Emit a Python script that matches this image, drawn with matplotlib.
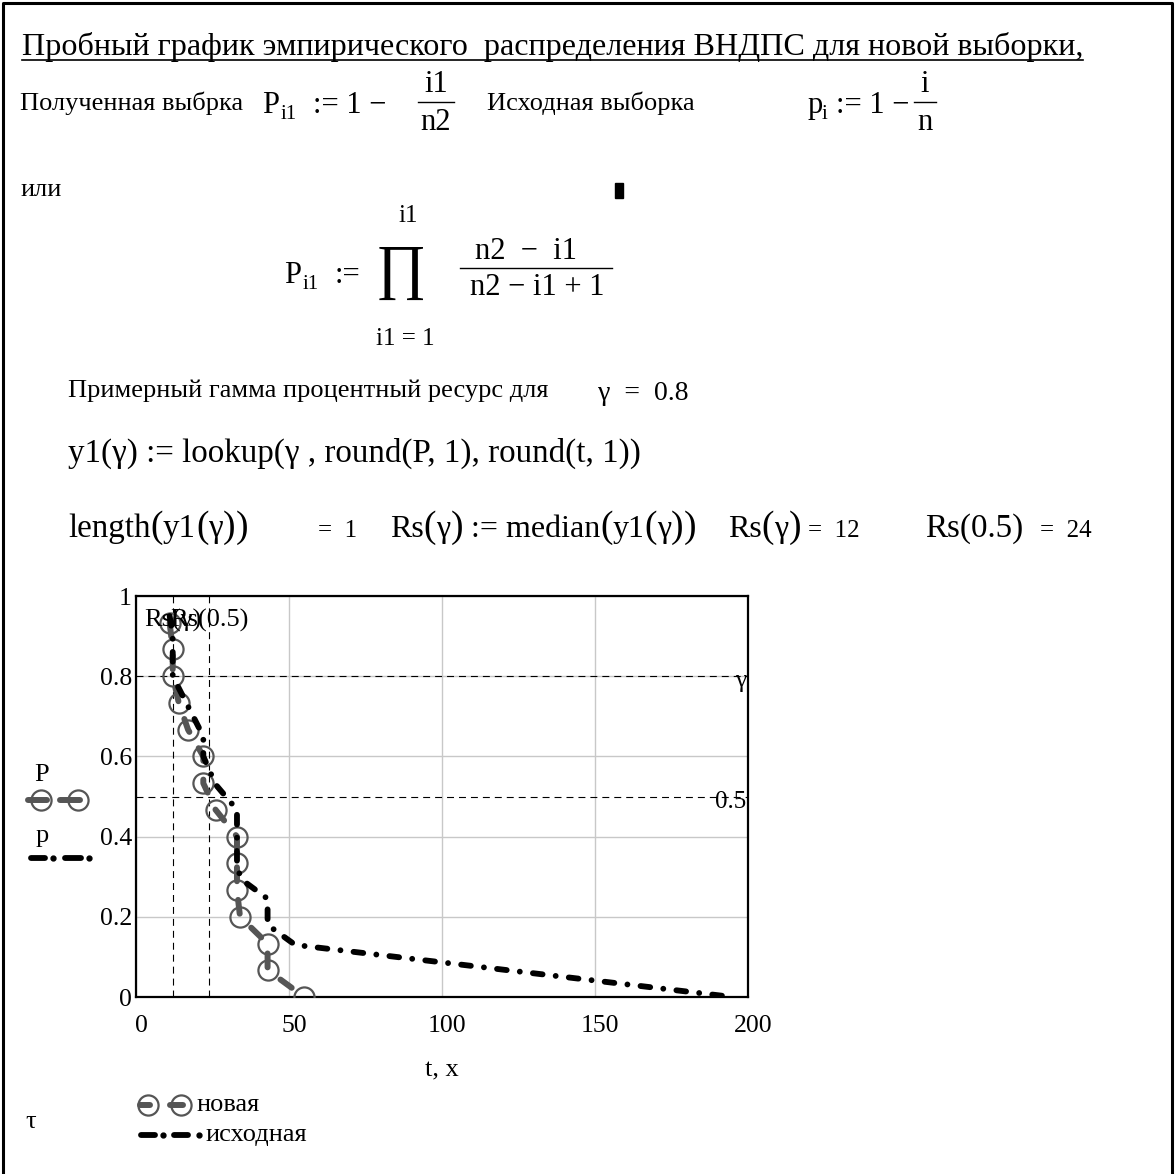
import matplotlib
matplotlib.use('Agg')
import matplotlib.pyplot as plt
import matplotlib.transforms as mtransforms
from matplotlib.lines import Line2D
from matplotlib.patches import Rectangle

plt.rcParams['font.family'] = ['Liberation Serif', 'DejaVu Serif']
plt.rcParams['lines.scale_dashes'] = False

# new sample: P(i1) = 1 - i1/n2 over sorted times t
t_new = [11, 12, 12, 14, 17, 22, 22, 26, 33, 33, 33, 34, 43, 43, 55]
P_new = [0.933, 0.867, 0.8, 0.733, 0.667, 0.6, 0.533, 0.467,
         0.4, 0.333, 0.267, 0.2, 0.133, 0.067, 0.0]

# original sample curve p(x)
x_orig = [11, 12, 12, 22, 22, 26, 33, 33, 35, 43, 43, 52, 195]
p_orig = [0.95, 0.9, 0.8, 0.65, 0.6, 0.53, 0.467, 0.32, 0.29, 0.245, 0.18, 0.13, 0.0]

gamma = 0.8
rs_gamma = 12     # Rs(gamma)
rs_half = 24      # Rs(0.5)

xticks = [0, 50, 100, 150, 200]
yticks = [0, 0.2, 0.4, 0.6, 0.8, 1]

GRAY = '#555555'
new_style = dict(color=GRAY, lw=4.3, ls=(0, (10, 13.5)), dash_capstyle='round',
                 marker='o', ms=14.5, mfc='none', mec=GRAY, mew=1.6)
orig_style = dict(color='k', lw=4.2, ls=(0, (7, 9.5, 0.01, 9.5)), dash_capstyle='round')
mark_style = dict(color='k', lw=0.8, ls=(0, (5, 3.6)))

W, H = 1175, 1174
fig = plt.figure(figsize=(W / 100, H / 100), dpi=100)
renderer = fig.canvas.get_renderer()


def put(x, y, s, size=19, **kw):
    return fig.text(x / W, 1 - y / H, s, fontsize=size, va='baseline', **kw)


def chain(x, y, parts):
    # lay pieces of different size one after another on a baseline
    for s, size in parts:
        t = put(x, y, s, size)
        x += t.get_window_extent(renderer).width
    return x


def seg(xs, y, **kw):
    fig.add_artist(Line2D([v / W for v in xs], [1 - y / H] * len(xs),
                          transform=fig.transFigure, **kw))


# sheet frame
fig.add_artist(Line2D([3 / W, 3 / W, 1172 / W, 1172 / W], [0, 1 - 3 / H, 1 - 3 / H, 0],
                      transform=fig.transFigure, color='k', lw=2.2))

# worksheet text
put(22, 55, 'Пробный график эмпирического  распределения ВНДПС для новой выборки,', 23.1)
seg([22, 1083], 60, color='k', lw=1.2)

put(20, 110, 'Полученная выбрка')
put(262, 113, 'P', 22)
put(281, 119, 'i1', 15)
put(313, 113, ':= 1 −', 22)
put(436, 92, 'i1', 22, ha='center')
seg([418, 454], 102, color='k', lw=1.0)
put(436, 130, 'n2', 22, ha='center')

put(487, 110, 'Исходная выборка')
put(808, 113, 'p', 22)
put(822, 119, 'i', 15)
put(836, 113, ':= 1 −', 22)
put(925, 92, 'i', 22, ha='center')
seg([914, 936], 102, color='k', lw=1.0)
put(925, 130, 'n', 22, ha='center')

put(20, 196, 'или')
fig.add_artist(Rectangle((615 / W, 1 - 198 / H), 8 / W, 15 / H,
                         transform=fig.transFigure, color='k'))

put(284, 283, 'P', 22)
put(303, 289, 'i1', 15)
put(335, 283, ':=', 22)
put(401, 287, '∏', 44, ha='center')
put(408, 222, 'i1', 18, ha='center')
put(405, 345, 'i1 = 1', 18, ha='center')
put(526, 259, 'n2  −  i1', 22, ha='center')
seg([460, 612], 268, color='k', lw=1.0)
put(537, 295, 'n2 − i1 + 1', 22, ha='center')

put(68, 397, 'Примерный гамма процентный ресурс для')
put(598, 400, 'γ  =  0.8', 20)

put(68, 462, 'y1(γ) := lookup(γ , round(P, 1), round(t, 1))', 23.8)

# function row: tall brackets round the gamma arguments
big = 27
chain(68, 537, [('length', 23.8), ('(', big), ('y1', 23.8), ('(', big), ('γ', 23.8),
                (')', big), (')', big)])
put(318, 537, '=  1', 18)
chain(390, 537, [('Rs', 23), ('(', big), ('γ', 23), (')', big), (' := median', 23),
                 ('(', big), ('y1', 23), ('(', big), ('γ', 23), (')', big), (')', big)])
chain(728, 537, [('Rs', 23), ('(', big), ('γ', 23), (')', big)])
put(808, 537, '=  12', 18)
put(925, 537, 'Rs(0.5)', 23.8)
put(1040, 537, '=  24', 18)

# plot
ax = fig.add_axes([136 / W, 1 - 997 / H, 612 / W, 401 / H])
ax.plot(t_new, P_new, zorder=3, **new_style)
ax.plot(x_orig, p_orig, zorder=4, **orig_style)

ax.axhline(gamma, zorder=2, **mark_style)
ax.axhline(0.5, zorder=2, **mark_style)
ax.axvline(rs_gamma, zorder=2, **mark_style)
ax.axvline(rs_half, zorder=2, **mark_style)
for v, s in [(gamma, 'γ'), (0.5, '0.5')]:
    ax.annotate(s, xy=(1, v), xycoords=('axes fraction', 'data'), xytext=(-1, -8),
                textcoords='offset points', ha='right', va='baseline', fontsize=18)
for v, s in [(rs_gamma, 'Rs(γ)'), (rs_half, 'Rs(0.5)')]:
    ax.annotate(s, xy=(v, 1), xycoords=('data', 'axes fraction'), xytext=(0, -22),
                textcoords='offset points', ha='center', va='baseline', fontsize=19)

ax.set_xlim(0, 200)
ax.set_ylim(0, 1)
ax.set_xticks(xticks)
ax.set_yticks(yticks)
ax.set_yticklabels(['%g' % v for v in yticks])
ax.grid(True, color='#c8c8c8', lw=1.0)
ax.set_axisbelow(True)
ax.tick_params(length=0, labelsize=18.5, pad=3)
ax.tick_params(axis='x', pad=13)
shift = mtransforms.ScaledTranslation(0.05, 0, fig.dpi_scale_trans)
for lab in ax.get_xticklabels():
    lab.set_transform(lab.get_transform() + shift)
for sp in ax.spines.values():
    sp.set_linewidth(1.6)
ax.set_xlabel('t, x', fontsize=19, labelpad=16)

# axis legend on the left
put(42, 781, 'P', 19, ha='center')
seg([28, 47], 800, color=GRAY, lw=4.3, solid_capstyle='round')
seg([60, 80], 800, color=GRAY, lw=4.3, solid_capstyle='round')
seg([41, 78], 800, ls='none', marker='o', ms=14.5, mfc='none', mec=GRAY, mew=1.6)
put(42, 842, 'p', 19, ha='center')
seg([31, 45], 858, color='k', lw=4.2, solid_capstyle='round')
seg([65, 81], 858, color='k', lw=4.2, solid_capstyle='round')
seg([53, 89], 858, ls='none', marker='o', ms=3.5, color='k')

# legend under the plot
put(25, 1128, 'τ', 19)
seg([140, 150], 1105, color=GRAY, lw=4.3, solid_capstyle='round')
seg([170, 183], 1105, color=GRAY, lw=4.3, solid_capstyle='round')
seg([148, 181], 1105, ls='none', marker='o', ms=14.5, mfc='none', mec=GRAY, mew=1.6)
put(196, 1111, 'новая', 19)
seg([141, 155], 1135, color='k', lw=4.2, solid_capstyle='round')
seg([174, 188], 1135, color='k', lw=4.2, solid_capstyle='round')
seg([163, 199], 1135, ls='none', marker='o', ms=3.5, color='k')
put(205, 1141, 'исходная', 19)

fig.savefig('out.png', dpi=100)
